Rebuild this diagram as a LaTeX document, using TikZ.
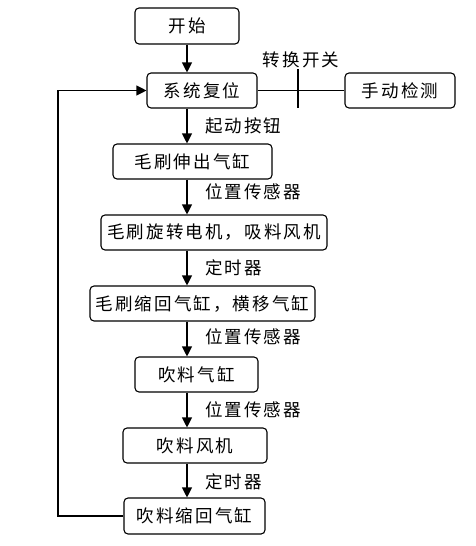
\documentclass[tikz,border=0pt]{standalone}
\usepackage{fontspec}
\setmainfont{Noto Sans CJK SC}[LetterSpace=12]
\usetikzlibrary{arrows.meta}
\begin{document}
\begin{tikzpicture}[x=1pt,y=-1pt,
  box/.style={draw,rounded corners=4pt,line width=1.1pt,minimum height=35pt,inner sep=0pt,font=\fontsize{17.5}{19}\selectfont},
  lbl/.style={anchor=west,inner sep=0pt,font=\fontsize{17.5}{19}\selectfont},
  flow/.style={line width=1.1pt,-{Triangle[length=10pt,width=10pt]}},
  plain/.style={line width=1.1pt}]
\useasboundingbox (0,0) rectangle (476,546);
\coordinate (ax) at (187,0);
\node[box,minimum width=104pt,minimum height=36pt] (start) at (187,26) {开始};
\node[box,minimum width=110pt] (reset) at (202,90.5) {系统复位};
\node[box,minimum width=110pt] (manual) at (400,90.5) {手动检测};
\node[box,minimum width=159pt] (b4) at (192.5,161.5) {毛刷伸出气缸};
\node[box,minimum width=226pt] (b5) at (214,232.5) {毛刷旋转电机，吸料风机};
\node[box,minimum width=225pt] (b6) at (202.5,303.5) {毛刷缩回气缸，横移气缸};
\node[box,minimum width=123pt] (b7) at (196.5,374.5) {吹料气缸};
\node[box,minimum width=144pt] (b8) at (195,445.5) {吹料风机};
\node[box,minimum width=141pt,minimum height=36pt] (b9) at (194.5,516) {吹料缩回气缸};
\draw[flow] (start.south -| ax) -- (reset.north -| ax);
\draw[flow] (reset.south -| ax) -- (b4.north -| ax);
\draw[flow] (b4.south -| ax) -- (b5.north -| ax);
\draw[flow] (b5.south -| ax) -- (b6.north -| ax);
\draw[flow] (b6.south -| ax) -- (b7.north -| ax);
\draw[flow] (b7.south -| ax) -- (b8.north -| ax);
\draw[flow] (b8.south -| ax) -- (b9.north -| ax);
\coordinate (lx) at (58,0);
\draw[flow] (b9.west) -- (b9.west -| lx) -- (reset.west -| lx) -- (reset.west);
\draw[plain] (reset.east) -- (manual.west);
\draw[plain] (298,69) -- (298,108);
\node[inner sep=0pt,font=\fontsize{17.5}{19}\selectfont] (swl) at (301,60) {转换开关};
\node[lbl] (l1) at (205,126) {起动按钮};
\node[lbl] (l2) at (205,192) {位置传感器};
\node[lbl] (l3) at (205,268) {定时器};
\node[lbl] (l4) at (205,337) {位置传感器};
\node[lbl] (l5) at (205,410) {位置传感器};
\node[lbl] (l6) at (205,482) {定时器};
\end{tikzpicture}
\end{document}
